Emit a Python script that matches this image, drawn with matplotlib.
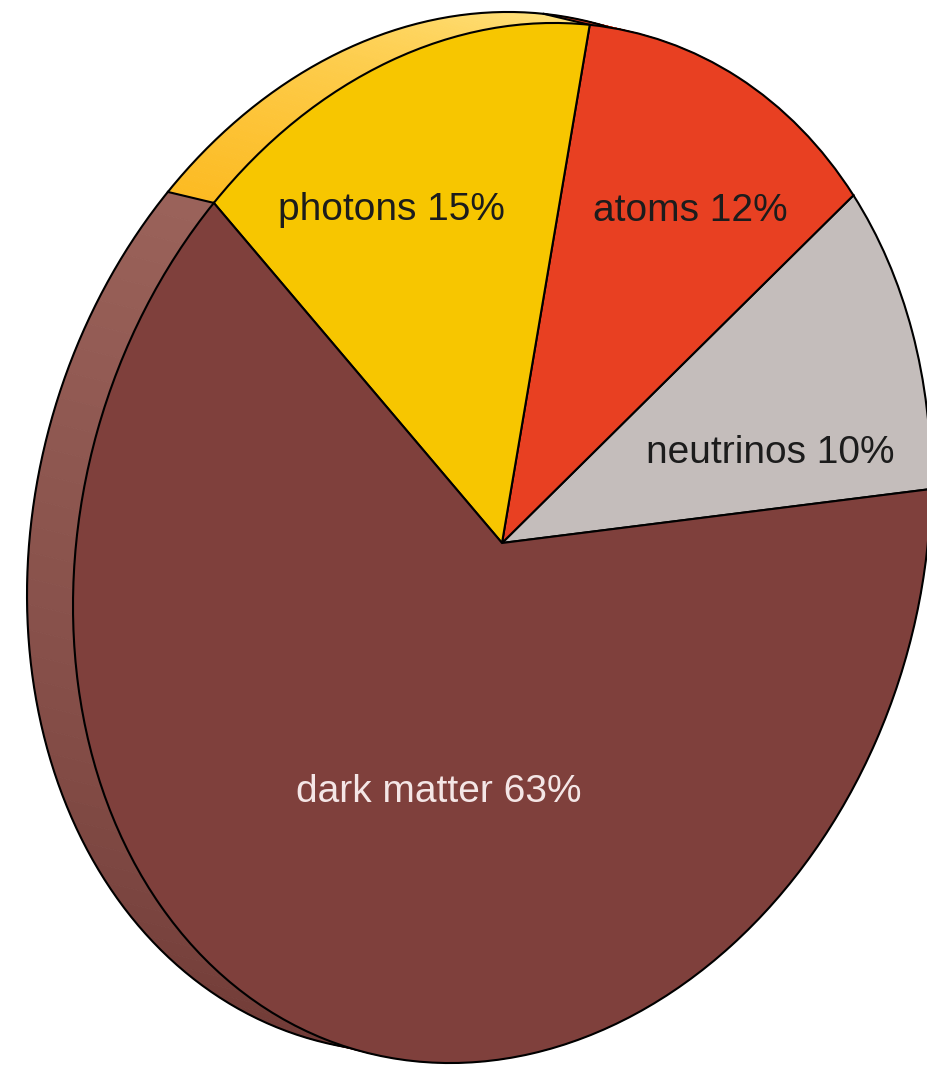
import numpy as np
import matplotlib.pyplot as plt
from matplotlib.transforms import Affine2D
from matplotlib.patches import Polygon
from matplotlib.colors import to_rgb

labels = ["neutrinos", "atoms", "photons", "dark matter"]
shares = [10, 12, 15, 63]
face_colors = ["#c4bdbb", "#e84022", "#f7c600", "#7f403c"]
# rim shading: colour at the start and at the end of each slice's edge
rim_colors = [("#c4bdbb", "#c4bdbb"), ("#e84022", "#e84022"),
              ("#ffe27e", "#fcbb22"), ("#9a625a", "#6a3531")]
label_colors = ["#1c1c1c", "#1c1c1c", "#1c1c1c", "#f4e6e6"]
label_pos = [(770, 602), (690, 844), (391, 845), (439, 263)]

fig = plt.figure(figsize=(9.28, 10.65), dpi=100)
ax = fig.add_axes([0, 0, 1, 1])

# the disc face is a unit pie, squashed and tilted (pixel units, y up)
tilt = Affine2D(np.array([[429.0, 0.0, 502.0],
                          [63.0, 516.2, 522.0],
                          [0.0, 0.0, 1.0]]))
depth = np.array([-46.0, 11.0])

wedges, _ = ax.pie(shares, colors=face_colors, startangle=-1, counterclock=True,
                   wedgeprops=dict(edgecolor="black", linewidth=1.5))
for w in wedges:
    w.set_transform(tilt + ax.transData)
    w.set_zorder(3)


def edge_pts(deg):
    t = np.deg2rad(np.atleast_1d(deg))
    return tilt.transform(np.column_stack([np.cos(t), np.sin(t)]))


# rim of the disc, drawn as thin quads between face edge and back edge
for w, (c0, c1) in zip(wedges, rim_colors):
    angs = np.linspace(w.theta1, w.theta2, 80)
    span = min(w.theta2 - w.theta1, 130)
    front = edge_pts(angs)
    back = front + depth
    for i in range(len(angs) - 1):
        f = np.clip((angs[i] - w.theta1) / span, 0, 1)
        col = (1 - f) * np.array(to_rgb(c0)) + f * np.array(to_rgb(c1))
        quad = [front[i], front[i + 1], back[i + 1], back[i]]
        ax.add_patch(Polygon(quad, closed=True, facecolor=col, edgecolor=col,
                             linewidth=0.6, zorder=1))
    # seam between slices on the rim
    p = edge_pts(w.theta1)[0]
    ax.plot([p[0], p[0] + depth[0]], [p[1], p[1] + depth[1]],
            color="black", lw=1.5, zorder=2)

outline = edge_pts(np.linspace(0, 360, 500)) + depth
ax.plot(outline[:, 0], outline[:, 1], color="black", lw=1.5, zorder=2)

for name, v, col, (x, y) in zip(labels, shares, label_colors, label_pos):
    ax.text(x, y, f"{name} {v}%", ha="center", va="baseline", color=col,
            fontsize=28, family="Liberation Sans", zorder=4)

ax.set_xlim(0, 928)
ax.set_ylim(0, 1065)
ax.set_aspect("auto")
ax.axis("off")

plt.savefig("out.png", dpi=100)
